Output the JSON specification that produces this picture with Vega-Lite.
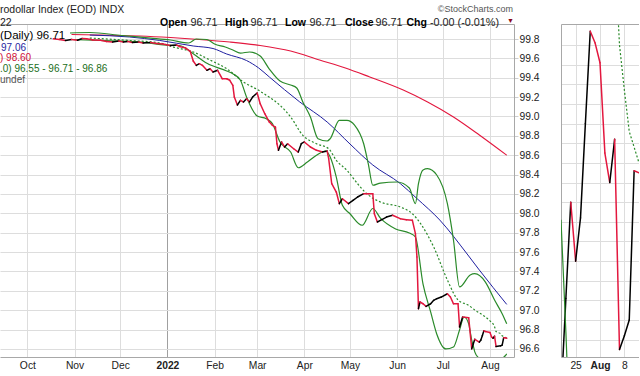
{
  "$schema": "https://vega.github.io/schema/vega-lite/v6.json",
  "usermeta": {"embedOptions": {"actions": false}},
  "background": "white",
  "padding": {"top": 5, "left": 0, "right": 0, "bottom": 0},
  "bounds": "flush",
  "spacing": 47,
  "config": {
    "view": {"stroke": null},
    "font": "Liberation Sans",
    "axis": {"labelFont": "Liberation Sans", "titleFont": "Liberation Sans"},
    "text": {"font": "Liberation Sans"}
  },
  "datasets": {
    "close": [
      {"date":"2021-10-18","v":99.803},{"date":"2021-10-22","v":99.795},{"date":"2021-10-26","v":99.785},{"date":"2021-10-30","v":99.795},
      {"date":"2021-11-03","v":99.787},{"date":"2021-11-06","v":99.805},{"date":"2021-11-09","v":99.803},{"date":"2021-11-13","v":99.790},
      {"date":"2021-11-18","v":99.787},{"date":"2021-11-22","v":99.774},{"date":"2021-11-26","v":99.769},{"date":"2021-11-30","v":99.779},
      {"date":"2021-12-03","v":99.769},{"date":"2021-12-06","v":99.774},{"date":"2021-12-09","v":99.764},{"date":"2021-12-13","v":99.769},
      {"date":"2021-12-16","v":99.759},{"date":"2021-12-21","v":99.764},{"date":"2021-12-25","v":99.754},{"date":"2021-12-29","v":99.748},
      {"date":"2022-01-03","v":99.733},{"date":"2022-01-07","v":99.738},{"date":"2022-01-09","v":99.723},{"date":"2022-01-13","v":99.707},
      {"date":"2022-01-16","v":99.673},{"date":"2022-01-18","v":99.573},{"date":"2022-01-20","v":99.528},{"date":"2022-01-22","v":99.545},
      {"date":"2022-01-24","v":99.528},{"date":"2022-01-27","v":99.477},{"date":"2022-01-29","v":99.493},{"date":"2022-01-31","v":99.459},
      {"date":"2022-02-03","v":99.477},{"date":"2022-02-06","v":99.390},{"date":"2022-02-09","v":99.390},{"date":"2022-02-11","v":99.374},
      {"date":"2022-02-13","v":99.322},{"date":"2022-02-14","v":99.201},{"date":"2022-02-16","v":99.119},{"date":"2022-02-18","v":99.167},
      {"date":"2022-02-20","v":99.150},{"date":"2022-02-22","v":99.184},{"date":"2022-02-24","v":99.150},{"date":"2022-02-26","v":99.201},
      {"date":"2022-03-01","v":99.243},{"date":"2022-03-03","v":99.132},{"date":"2022-03-06","v":99.029},{"date":"2022-03-09","v":98.943},
      {"date":"2022-03-11","v":98.909},{"date":"2022-03-13","v":98.891},{"date":"2022-03-14","v":98.719},{"date":"2022-03-15","v":98.651},
      {"date":"2022-03-17","v":98.737},{"date":"2022-03-19","v":98.685},{"date":"2022-03-21","v":98.719},{"date":"2022-03-25","v":98.667},
      {"date":"2022-03-28","v":98.633},{"date":"2022-03-30","v":98.719},{"date":"2022-04-01","v":98.737},{"date":"2022-04-05","v":98.685},
      {"date":"2022-04-09","v":98.651},{"date":"2022-04-13","v":98.633},{"date":"2022-04-16","v":98.644},{"date":"2022-04-17","v":98.564},
      {"date":"2022-04-19","v":98.306},{"date":"2022-04-22","v":98.220},{"date":"2022-04-24","v":98.100},{"date":"2022-04-26","v":98.151},
      {"date":"2022-04-30","v":98.100},{"date":"2022-05-03","v":98.135},{"date":"2022-05-06","v":98.169},{"date":"2022-05-10","v":98.203},
      {"date":"2022-05-13","v":98.203},{"date":"2022-05-16","v":98.203},{"date":"2022-05-17","v":97.996},{"date":"2022-05-19","v":97.911},
      {"date":"2022-05-21","v":97.928},{"date":"2022-05-25","v":97.962},{"date":"2022-05-29","v":97.980},{"date":"2022-06-03","v":97.945},
      {"date":"2022-06-07","v":97.934},{"date":"2022-06-11","v":97.928},{"date":"2022-06-13","v":97.790},{"date":"2022-06-14","v":97.549},
      {"date":"2022-06-15","v":97.016},{"date":"2022-06-16","v":97.085},{"date":"2022-06-18","v":97.067},{"date":"2022-06-20","v":97.040},
      {"date":"2022-06-23","v":97.067},{"date":"2022-06-25","v":97.102},{"date":"2022-06-27","v":97.119},{"date":"2022-06-30","v":97.136},
      {"date":"2022-07-04","v":97.170},{"date":"2022-07-06","v":97.136},{"date":"2022-07-08","v":97.067},{"date":"2022-07-11","v":97.067},
      {"date":"2022-07-12","v":96.827},{"date":"2022-07-14","v":96.930},{"date":"2022-07-18","v":96.923},{"date":"2022-07-20","v":96.601},
      {"date":"2022-07-21","v":96.651},{"date":"2022-07-22","v":96.700},{"date":"2022-07-25","v":96.670},{"date":"2022-07-26","v":96.692},
      {"date":"2022-07-27","v":96.740},{"date":"2022-07-28","v":96.787},{"date":"2022-07-29","v":96.781},{"date":"2022-08-01","v":96.771},
      {"date":"2022-08-02","v":96.725},{"date":"2022-08-03","v":96.710},{"date":"2022-08-04","v":96.732},{"date":"2022-08-05","v":96.625},
      {"date":"2022-08-08","v":96.632},{"date":"2022-08-09","v":96.640},{"date":"2022-08-10","v":96.716},{"date":"2022-08-11","v":96.715},
      {"date":"2022-08-12","v":96.710}
    ],
    "ma50": [
      {"date":"2021-11-11","v":99.841},{"date":"2021-12-07","v":99.821},{"date":"2021-12-27","v":99.785},{"date":"2022-01-18","v":99.728},
      {"date":"2022-01-31","v":99.702},{"date":"2022-02-09","v":99.645},{"date":"2022-02-22","v":99.578},{"date":"2022-03-02","v":99.501},
      {"date":"2022-03-09","v":99.408},{"date":"2022-03-29","v":99.150},{"date":"2022-04-16","v":98.943},{"date":"2022-05-01","v":98.716},
      {"date":"2022-05-16","v":98.499},{"date":"2022-06-03","v":98.308},{"date":"2022-06-14","v":98.153},{"date":"2022-06-29","v":97.931},
      {"date":"2022-07-17","v":97.580},{"date":"2022-07-25","v":97.415},{"date":"2022-08-12","v":97.060}
    ],
    "ma200": [
      {"date":"2021-10-30","v":99.846},{"date":"2021-11-18","v":99.841},{"date":"2021-12-14","v":99.831},{"date":"2022-01-03","v":99.815},
      {"date":"2022-01-22","v":99.795},{"date":"2022-02-11","v":99.769},{"date":"2022-03-03","v":99.733},{"date":"2022-03-23","v":99.676},
      {"date":"2022-04-11","v":99.583},{"date":"2022-04-28","v":99.501},{"date":"2022-05-14","v":99.408},{"date":"2022-06-05","v":99.273},
      {"date":"2022-06-21","v":99.150},{"date":"2022-07-08","v":98.995},{"date":"2022-07-25","v":98.809},{"date":"2022-08-12","v":98.600}
    ],
    "bbUpper": [
      {"date":"2021-10-29","v":99.862},{"date":"2021-11-11","v":99.867},{"date":"2021-12-02","v":99.836},{"date":"2021-12-21","v":99.810},
      {"date":"2022-01-03","v":99.790},{"date":"2022-01-15","v":99.759},{"date":"2022-01-20","v":99.800},{"date":"2022-01-27","v":99.795},
      {"date":"2022-02-01","v":99.748},{"date":"2022-02-08","v":99.717},{"date":"2022-02-13","v":99.686},{"date":"2022-02-18","v":99.655},
      {"date":"2022-02-24","v":99.666},{"date":"2022-03-03","v":99.624},{"date":"2022-03-09","v":99.490},{"date":"2022-03-16","v":99.366},
      {"date":"2022-03-23","v":99.325},{"date":"2022-03-27","v":99.294},{"date":"2022-03-31","v":99.150},{"date":"2022-04-05","v":98.995},
      {"date":"2022-04-10","v":98.771},{"date":"2022-04-16","v":98.747},{"date":"2022-04-18","v":98.771},{"date":"2022-04-24","v":98.961},
      {"date":"2022-04-29","v":98.961},{"date":"2022-05-04","v":98.912},{"date":"2022-05-10","v":98.719},{"date":"2022-05-13","v":98.513},
      {"date":"2022-05-16","v":98.290},{"date":"2022-05-21","v":98.313},{"date":"2022-06-01","v":98.324},{"date":"2022-06-09","v":98.262},
      {"date":"2022-06-13","v":98.100},{"date":"2022-06-15","v":98.306},{"date":"2022-06-18","v":98.448},{"date":"2022-06-21","v":98.461},
      {"date":"2022-06-27","v":98.396},{"date":"2022-07-04","v":98.100},{"date":"2022-07-08","v":97.725},{"date":"2022-07-12","v":97.240},
      {"date":"2022-07-19","v":97.364},{"date":"2022-07-22","v":97.377},{"date":"2022-07-29","v":97.291},{"date":"2022-08-04","v":97.105},
      {"date":"2022-08-09","v":96.964},{"date":"2022-08-12","v":96.860}
    ],
    "bbMid": [
      {"date":"2021-11-11","v":99.810},{"date":"2021-12-07","v":99.785},{"date":"2021-12-27","v":99.759},{"date":"2022-01-05","v":99.717},
      {"date":"2022-01-18","v":99.666},{"date":"2022-01-29","v":99.583},{"date":"2022-02-09","v":99.493},{"date":"2022-02-20","v":99.356},
      {"date":"2022-03-02","v":99.270},{"date":"2022-03-07","v":99.219},{"date":"2022-03-16","v":99.116},{"date":"2022-03-23","v":98.995},
      {"date":"2022-03-31","v":98.806},{"date":"2022-04-09","v":98.719},{"date":"2022-04-17","v":98.667},{"date":"2022-04-22","v":98.548},
      {"date":"2022-04-29","v":98.444},{"date":"2022-05-06","v":98.306},{"date":"2022-05-12","v":98.203},{"date":"2022-05-21","v":98.117},
      {"date":"2022-06-03","v":98.066},{"date":"2022-06-11","v":97.996},{"date":"2022-06-17","v":97.880},{"date":"2022-06-25","v":97.653},
      {"date":"2022-07-04","v":97.312},{"date":"2022-07-11","v":97.105},{"date":"2022-07-18","v":97.050},{"date":"2022-07-22","v":97.002},
      {"date":"2022-07-29","v":96.930},{"date":"2022-08-01","v":96.890},{"date":"2022-08-04","v":96.830},{"date":"2022-08-05","v":96.780},
      {"date":"2022-08-08","v":96.757},{"date":"2022-08-09","v":96.736},{"date":"2022-08-10","v":96.728},{"date":"2022-08-11","v":96.720},
      {"date":"2022-08-12","v":96.710}
    ],
    "bbLower": [
      {"date":"2021-10-29","v":99.795},{"date":"2021-11-18","v":99.785},{"date":"2021-12-14","v":99.769},{"date":"2022-01-03","v":99.735},
      {"date":"2022-01-09","v":99.733},{"date":"2022-01-18","v":99.648},{"date":"2022-01-27","v":99.549},{"date":"2022-02-09","v":99.470},
      {"date":"2022-02-13","v":99.442},{"date":"2022-02-18","v":99.374},{"date":"2022-02-22","v":99.201},{"date":"2022-03-01","v":99.005},
      {"date":"2022-03-07","v":98.977},{"date":"2022-03-11","v":98.926},{"date":"2022-03-16","v":98.737},{"date":"2022-03-23","v":98.633},
      {"date":"2022-03-28","v":98.471},{"date":"2022-04-03","v":98.530},{"date":"2022-04-09","v":98.599},{"date":"2022-04-15","v":98.644},
      {"date":"2022-04-18","v":98.582},{"date":"2022-04-22","v":98.375},{"date":"2022-04-26","v":98.083},{"date":"2022-05-01","v":97.996},
      {"date":"2022-05-09","v":97.877},{"date":"2022-05-16","v":98.050},{"date":"2022-05-21","v":97.950},{"date":"2022-05-31","v":97.839},
      {"date":"2022-06-09","v":97.797},{"date":"2022-06-13","v":97.756},{"date":"2022-06-18","v":97.270},{"date":"2022-06-23","v":96.982},
      {"date":"2022-06-27","v":96.755},{"date":"2022-07-03","v":96.600},{"date":"2022-07-08","v":96.620},{"date":"2022-07-12","v":96.796},
      {"date":"2022-07-15","v":96.930},{"date":"2022-07-18","v":96.860},{"date":"2022-07-19","v":96.780},{"date":"2022-07-20","v":96.691},
      {"date":"2022-07-21","v":96.634},{"date":"2022-07-22","v":96.570},{"date":"2022-07-25","v":96.500},{"date":"2022-07-27","v":96.460},
      {"date":"2022-08-01","v":96.420},{"date":"2022-08-05","v":96.440},{"date":"2022-08-09","v":96.500},{"date":"2022-08-11","v":96.530},
      {"date":"2022-08-12","v":96.550}
    ],
    "subClose": [
      {"day":"2022-07-20","v":96.601},{"day":"2022-07-21","v":96.651},{"day":"2022-07-22","v":96.700},{"day":"2022-07-25","v":96.670},
      {"day":"2022-07-26","v":96.692},{"day":"2022-07-27","v":96.740},{"day":"2022-07-28","v":96.787},{"day":"2022-07-29","v":96.781},
      {"day":"2022-08-01","v":96.771},{"day":"2022-08-02","v":96.725},{"day":"2022-08-03","v":96.710},{"day":"2022-08-04","v":96.732},
      {"day":"2022-08-05","v":96.625},{"day":"2022-08-08","v":96.632},{"day":"2022-08-09","v":96.640},{"day":"2022-08-10","v":96.716},
      {"day":"2022-08-11","v":96.715}
    ],
    "subLower": [
      {"day":"2022-07-20","v":96.691},{"day":"2022-07-21","v":96.634},{"day":"2022-07-22","v":96.570},{"day":"2022-07-25","v":96.500}
    ],
    "subMid": [
      {"day":"2022-07-29","v":96.930},{"day":"2022-08-01","v":96.890},{"day":"2022-08-04","v":96.830},{"day":"2022-08-05","v":96.780},
      {"day":"2022-08-08","v":96.757},{"day":"2022-08-09","v":96.736},{"day":"2022-08-10","v":96.728},{"day":"2022-08-11","v":96.720}
    ]
  },
  "hconcat": [
    {
      "width": 514,
      "height": 333,
      "resolve": {"axis": {"x": "independent", "y": "independent"}},
      "layer": [
        {
          "data": {"name": "ma200"},
          "mark": {"type": "line", "color": "#e3173e", "strokeWidth": 1.1, "interpolate": "monotone"},
          "encoding": {
            "x": {"field": "date", "type": "temporal", "title": null,
              "scale": {"type": "utc", "domain": [{"year": 2021, "month": 9, "date": 13, "utc": true}, {"year": 2022, "month": 8, "date": 16, "hours": 18, "minutes": 43, "utc": true}]},
              "axis": {"orient": "bottom", "title": null, "grid": true, "ticks": false, "domain": true, "domainColor": "#a8a8a8",
                "values": [{"year": 2021, "month": 10, "date": 1, "utc": true}, {"year": 2021, "month": 11, "date": 1, "utc": true}, {"year": 2021, "month": 12, "date": 1, "utc": true}, {"year": 2022, "month": 1, "date": 1, "utc": true}, {"year": 2022, "month": 2, "date": 1, "utc": true}, {"year": 2022, "month": 3, "date": 1, "utc": true}, {"year": 2022, "month": 4, "date": 1, "utc": true}, {"year": 2022, "month": 5, "date": 1, "utc": true}, {"year": 2022, "month": 6, "date": 1, "utc": true}, {"year": 2022, "month": 7, "date": 1, "utc": true}, {"year": 2022, "month": 8, "date": 1, "utc": true}],
                "labelExpr": "utcmonth(datum.value) === 0 ? '2022' : utcFormat(datum.value, '%b')",
                "labelFontWeight": {"condition": {"test": "utcmonth(datum.value) === 0", "value": "bold"}, "value": "normal"},
                "gridColor": {"condition": {"test": "utcmonth(datum.value) === 0", "value": "#a0a0a0"}, "value": "#dddddd"},
                "labelFontSize": 10.3, "labelColor": "#222222", "labelPadding": 3, "labelOverlap": false}},
            "y": {"field": "v", "type": "quantitative", "title": null,
              "scale": {"domain": [96.517, 99.955], "zero": false, "nice": false},
              "axis": {"orient": "right", "title": null, "values": [96.6, 96.8, 97.0, 97.2, 97.4, 97.6, 97.8, 98.0, 98.2, 98.4, 98.6, 98.8, 99.0, 99.2, 99.4, 99.6, 99.8],
                "format": ".1f", "grid": true, "gridColor": "#dddddd", "domain": true, "domainColor": "#a8a8a8", "ticks": true, "tickColor": "#cccccc", "tickSize": 4,
                "labelPadding": 1, "labelFontSize": 10.3, "labelColor": "#222222", "labelOverlap": false, "labelBound": false}}
          }
        },
        {
          "data": {"name": "ma50"},
          "mark": {"type": "line", "color": "#1f1fa0", "strokeWidth": 1, "interpolate": "monotone"},
          "encoding": {
            "x": {"field": "date", "type": "temporal", "title": null,
              "scale": {"type": "utc", "domain": [{"year": 2021, "month": 9, "date": 13, "utc": true}, {"year": 2022, "month": 8, "date": 16, "hours": 18, "minutes": 43, "utc": true}]},
              "axis": {"orient": "top", "title": null, "labels": false, "ticks": false, "grid": false, "domain": true, "domainColor": "#a8a8a8"}},
            "y": {"field": "v", "type": "quantitative", "title": null, "axis": null, "scale": {"domain": [96.517, 99.955], "zero": false, "nice": false}}
          }
        },
        {
          "data": {"name": "bbUpper"},
          "mark": {"type": "line", "color": "#2a8a2a", "strokeWidth": 1.2, "interpolate": "monotone"},
          "encoding": {
            "x": {"field": "date", "type": "temporal", "title": null, "axis": null,
              "scale": {"type": "utc", "domain": [{"year": 2021, "month": 9, "date": 13, "utc": true}, {"year": 2022, "month": 8, "date": 16, "hours": 18, "minutes": 43, "utc": true}]}},
            "y": {"field": "v", "type": "quantitative", "title": null, "axis": null, "scale": {"domain": [96.517, 99.955], "zero": false, "nice": false}}
          }
        },
        {
          "data": {"name": "bbLower"},
          "mark": {"type": "line", "color": "#2a8a2a", "strokeWidth": 1.2, "interpolate": "monotone", "clip": true},
          "encoding": {
            "x": {"field": "date", "type": "temporal", "title": null, "axis": null,
              "scale": {"type": "utc", "domain": [{"year": 2021, "month": 9, "date": 13, "utc": true}, {"year": 2022, "month": 8, "date": 16, "hours": 18, "minutes": 43, "utc": true}]}},
            "y": {"field": "v", "type": "quantitative", "title": null, "axis": null, "scale": {"domain": [96.517, 99.955], "zero": false, "nice": false}}
          }
        },
        {
          "data": {"name": "bbMid"},
          "mark": {"type": "line", "color": "#2a8a2a", "strokeWidth": 1.2, "strokeDash": [2, 2], "interpolate": "monotone"},
          "encoding": {
            "x": {"field": "date", "type": "temporal", "title": null, "axis": null,
              "scale": {"type": "utc", "domain": [{"year": 2021, "month": 9, "date": 13, "utc": true}, {"year": 2022, "month": 8, "date": 16, "hours": 18, "minutes": 43, "utc": true}]}},
            "y": {"field": "v", "type": "quantitative", "title": null, "axis": null, "scale": {"domain": [96.517, 99.955], "zero": false, "nice": false}}
          }
        },
        {
          "data": {"name": "close"},
          "transform": [
            {"window": [{"op": "lead", "field": "v", "as": "nv"}, {"op": "lead", "field": "date", "as": "nd"}], "sort": [{"field": "date", "order": "ascending"}]},
            {"filter": "datum.nd != null"}
          ],
          "mark": {"type": "rule", "strokeWidth": 1.5, "strokeCap": "round"},
          "encoding": {
            "x": {"field": "date", "type": "temporal", "title": null, "axis": null,
              "scale": {"type": "utc", "domain": [{"year": 2021, "month": 9, "date": 13, "utc": true}, {"year": 2022, "month": 8, "date": 16, "hours": 18, "minutes": 43, "utc": true}]}},
            "x2": {"field": "nd"},
            "y": {"field": "v", "type": "quantitative", "title": null, "axis": null, "scale": {"domain": [96.517, 99.955], "zero": false, "nice": false}},
            "y2": {"field": "nv"},
            "color": {"condition": {"test": "datum.nv > datum.v", "value": "#000000"}, "value": "#e3173e"}
          }
        },
        {"data": {"values": [{}]}, "mark": {"type": "text", "text": "rodollar Index (EOD)  INDX", "x": 0, "y": -14, "align": "left", "fontSize": 10.5, "color": "#222222"}},
        {"data": {"values": [{}]}, "mark": {"type": "text", "text": "22", "x": 0, "y": -1.5, "align": "left", "fontSize": 10.5, "color": "#222222"}},
        {"data": {"values": [{}]}, "mark": {"type": "text", "text": "©StockCharts.com", "x": 513, "y": -15, "align": "right", "fontSize": 9, "color": "#555555"}},
        {"data": {"values": [{}]}, "mark": {"type": "text", "text": "Open", "x": 160, "y": -1.5, "align": "left", "fontSize": 10.5, "fontWeight": "bold", "color": "#000000"}},
        {"data": {"values": [{}]}, "mark": {"type": "text", "text": "96.71", "x": 190.5, "y": -1.5, "align": "left", "fontSize": 10.8, "color": "#222222"}},
        {"data": {"values": [{}]}, "mark": {"type": "text", "text": "High", "x": 225, "y": -1.5, "align": "left", "fontSize": 10.5, "fontWeight": "bold", "color": "#000000"}},
        {"data": {"values": [{}]}, "mark": {"type": "text", "text": "96.71", "x": 250.5, "y": -1.5, "align": "left", "fontSize": 10.8, "color": "#222222"}},
        {"data": {"values": [{}]}, "mark": {"type": "text", "text": "Low", "x": 285, "y": -1.5, "align": "left", "fontSize": 10.5, "fontWeight": "bold", "color": "#000000"}},
        {"data": {"values": [{}]}, "mark": {"type": "text", "text": "96.71", "x": 309.5, "y": -1.5, "align": "left", "fontSize": 10.8, "color": "#222222"}},
        {"data": {"values": [{}]}, "mark": {"type": "text", "text": "Close", "x": 345, "y": -1.5, "align": "left", "fontSize": 10.5, "fontWeight": "bold", "color": "#000000"}},
        {"data": {"values": [{}]}, "mark": {"type": "text", "text": "96.71", "x": 375.5, "y": -1.5, "align": "left", "fontSize": 10.8, "color": "#222222"}},
        {"data": {"values": [{}]}, "mark": {"type": "text", "text": "Chg", "x": 406.5, "y": -1.5, "align": "left", "fontSize": 10.5, "fontWeight": "bold", "color": "#000000"}},
        {"data": {"values": [{}]}, "mark": {"type": "text", "text": "-0.00 (-0.01%)", "x": 430, "y": -1.5, "align": "left", "fontSize": 10.8, "color": "#222222"}},
        {"data": {"values": [{}]}, "mark": {"type": "text", "text": "▼", "x": 507, "y": -3, "align": "left", "fontSize": 7, "color": "#8b0a1a"}},
        {"data": {"values": [{}]}, "mark": {"type": "text", "text": "(Daily) 96.71", "x": 0, "y": 11.5, "align": "left", "fontSize": 11.5, "color": "#000000"}},
        {"data": {"values": [{}]}, "mark": {"type": "text", "text": "97.06", "x": 1, "y": 23.5, "align": "left", "fontSize": 10, "color": "#1f1fa0"}},
        {"data": {"values": [{}]}, "mark": {"type": "text", "text": ") 98.60", "x": 0, "y": 34, "align": "left", "fontSize": 10, "color": "#d0103a"}},
        {"data": {"values": [{}]}, "mark": {"type": "text", "text": ".0) 96.55 - 96.71 - 96.86", "x": 0, "y": 45, "align": "left", "fontSize": 10, "color": "#1a6e1a"}},
        {"data": {"values": [{}]}, "mark": {"type": "text", "text": "undef", "x": 0, "y": 56, "align": "left", "fontSize": 10, "color": "#555555"}}
      ]
    },
    {
      "width": 78,
      "height": 333,
      "resolve": {"axis": {"x": "independent", "y": "independent"}},
      "layer": [
        {
          "data": {"name": "subClose"},
          "transform": [
            {"window": [{"op": "lead", "field": "v", "as": "nv"}, {"op": "lead", "field": "day", "as": "nd"}], "sort": [{"field": "day", "order": "ascending"}]},
            {"filter": "datum.nd != null"}
          ],
          "mark": {"type": "rule", "strokeWidth": 1.5, "strokeCap": "round", "clip": true},
          "encoding": {
            "x": {"field": "day", "type": "ordinal", "title": null,
              "scale": {"type": "point", "padding": 0, "domain": ["2022-07-20","2022-07-21","2022-07-22","2022-07-25","2022-07-26","2022-07-27","2022-07-28","2022-07-29","2022-08-01","2022-08-02","2022-08-03","2022-08-04","2022-08-05","2022-08-08","2022-08-09","2022-08-10","2022-08-11"]},
              "axis": {"orient": "bottom", "title": null, "values": ["2022-07-25", "2022-08-01", "2022-08-08"],
                "labelExpr": "datum.value === '2022-07-25' ? '25' : (datum.value === '2022-08-01' ? 'Aug' : '8')",
                "labelFontWeight": {"condition": {"test": "datum.value === '2022-08-01'", "value": "bold"}, "value": "normal"},
                "grid": true, "gridColor": "#dddddd", "ticks": false, "domain": true, "domainColor": "#a8a8a8", "labelAngle": 0,
                "labelPadding": 3, "labelFontSize": 10.3, "labelColor": "#222222", "labelOverlap": false}},
            "x2": {"field": "nd"},
            "y": {"field": "v", "type": "quantitative", "title": null,
              "scale": {"domain": [96.6212, 96.7907], "zero": false, "nice": false},
              "axis": {"orient": "left", "title": null, "values": [96.63, 96.64, 96.65, 96.66, 96.67, 96.68, 96.69, 96.70, 96.71, 96.72, 96.73, 96.74, 96.75, 96.76, 96.77, 96.78],
                "labels": false, "ticks": false, "grid": true, "gridColor": "#dddddd", "domain": true, "domainColor": "#a8a8a8"}},
            "y2": {"field": "nv"},
            "color": {"condition": {"test": "datum.nv > datum.v", "value": "#000000"}, "value": "#e3173e"}
          }
        },
        {
          "data": {"name": "subLower"},
          "mark": {"type": "line", "color": "#2a8a2a", "strokeWidth": 1.2, "clip": true},
          "encoding": {
            "x": {"field": "day", "type": "ordinal", "title": null,
              "scale": {"type": "point", "padding": 0, "domain": ["2022-07-20","2022-07-21","2022-07-22","2022-07-25","2022-07-26","2022-07-27","2022-07-28","2022-07-29","2022-08-01","2022-08-02","2022-08-03","2022-08-04","2022-08-05","2022-08-08","2022-08-09","2022-08-10","2022-08-11"]},
              "axis": {"orient": "top", "title": null, "labels": false, "ticks": false, "grid": false, "domain": true, "domainColor": "#a8a8a8"}},
            "y": {"field": "v", "type": "quantitative", "title": null, "axis": null, "scale": {"domain": [96.6212, 96.7907], "zero": false, "nice": false}}
          }
        },
        {
          "data": {"name": "subMid"},
          "mark": {"type": "line", "color": "#2a8a2a", "strokeWidth": 1.2, "strokeDash": [2, 2], "clip": true},
          "encoding": {
            "x": {"field": "day", "type": "ordinal", "title": null, "axis": null,
              "scale": {"type": "point", "padding": 0, "domain": ["2022-07-20","2022-07-21","2022-07-22","2022-07-25","2022-07-26","2022-07-27","2022-07-28","2022-07-29","2022-08-01","2022-08-02","2022-08-03","2022-08-04","2022-08-05","2022-08-08","2022-08-09","2022-08-10","2022-08-11"]}},
            "y": {"field": "v", "type": "quantitative", "title": null, "axis": null, "scale": {"domain": [96.6212, 96.7907], "zero": false, "nice": false}}
          }
        }
      ]
    }
  ]
}
